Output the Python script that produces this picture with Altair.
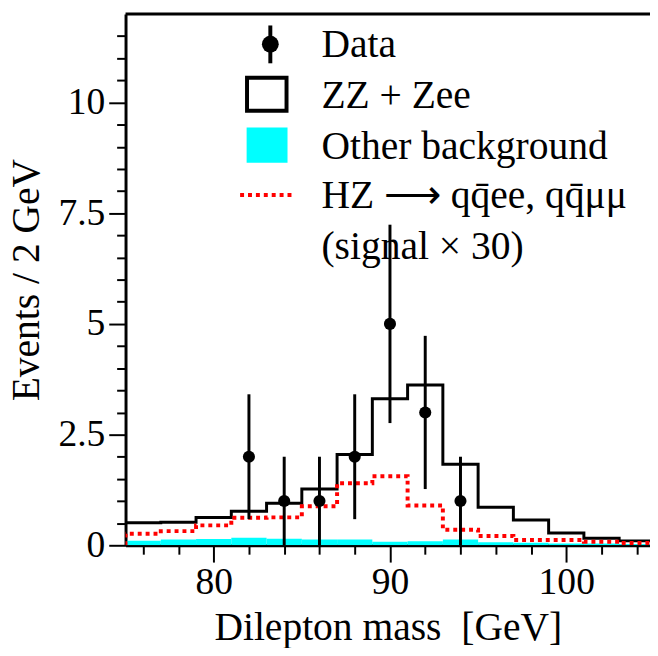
import altair as alt
import pandas as pd

# ---- data ----
bin_edges = [75, 77, 79, 81, 83, 85, 87, 89, 91, 93, 95, 97, 99, 101, 103, 105]
other_bkg = [0.10, 0.13, 0.14, 0.17, 0.15, 0.13, 0.13, 0.08, 0.09, 0.13, 0.07, 0.06, 0.04, 0.04, 0.03]
zz_total = [0.51, 0.52, 0.63, 0.77, 0.95, 1.27, 2.05, 3.31, 3.62, 1.83, 0.86, 0.57, 0.28, 0.16, 0.10]
signal_x30 = [0.26, 0.32, 0.45, 0.62, 0.63, 0.88, 1.40, 1.56, 0.90, 0.35, 0.21, 0.12, 0.12, 0.08, 0.05]

data_x = [82, 84, 86, 88, 90, 92, 94]
data_y = [2, 1, 1, 2, 5, 3, 1]
data_lo = [0.59, 0, 0, 0.59, 2.76, 1.27, 0]
data_hi = [3.41, 2, 2, 3.41, 7.24, 4.73, 2]

x_major = [80, 90, 100]
x_minor = [76, 78, 82, 84, 86, 88, 92, 94, 96, 98, 102, 104]
y_major = [0, 2.5, 5, 7.5, 10]
y_minor = [0.5, 1, 1.5, 2, 3, 3.5, 4, 4.5, 5.5, 6, 6.5, 7, 8, 8.5, 9, 9.5, 10.5, 11, 11.5]

legend_labels = ["Data", "ZZ + Zee", "Other background",
                 "HZ \u27f6 qq\u0304ee, qq\u0304\u03bc\u03bc", "(signal \u00d7 30)"]

FONT = "Liberation Serif"
W, H = 531, 538

# ---- tables ----
bins = pd.DataFrame({"lo": bin_edges[:-1], "hi": bin_edges[1:], "bkg": other_bkg, "zero": 0})


def step_table(vals):
    xs = [bin_edges[0]] + bin_edges
    ys = [0] + vals + [vals[-1]]
    return pd.DataFrame({"x": xs, "y": ys, "i": list(range(len(xs)))})


zz_df = step_table(zz_total)
sig_df = step_table(signal_x30)
pts = pd.DataFrame({"x": data_x, "y": data_y, "lo": data_lo, "hi": data_hi})

xscale = alt.Scale(domain=[75, 104.75], nice=False, zero=False)
yscale = alt.Scale(domain=[0, 12], nice=False)

xaxis = alt.Axis(
    values=x_major, title="Dilepton mass\u00a0\u00a0[GeV]", orient="bottom",
    format="d", tickSize=17,
    labelPadding=32, labelBaseline="alphabetic", labelFontSize=38, labelOverlap=False,
    titleX=265.5, titleY=95, titleAlign="center", titleBaseline="alphabetic",
    titleFontSize=40, grid=False,
)
yaxis = alt.Axis(
    values=y_major, title="Events / 2 GeV", orient="left",
    labelExpr="'' + datum.value", tickSize=17,
    labelPadding=4, labelFontSize=38, labelOverlap=False,
    titleX=-88, titleY=269, titleAngle=270, titleAlign="center", titleBaseline="alphabetic",
    titleFontSize=40, grid=False,
)
xaxis_minor = alt.Axis(values=x_minor, orient="bottom", labels=False, domain=False,
                       tickSize=9, title="", grid=False)
yaxis_minor = alt.Axis(values=y_minor, orient="left", labels=False, domain=False,
                       tickSize=9, title="", grid=False)

bkg = alt.Chart(bins).mark_rect(color="#00ffff", clip=True).encode(
    x=alt.X("lo:Q", scale=xscale, axis=xaxis),
    x2="hi:Q",
    y=alt.Y("bkg:Q", scale=yscale, axis=yaxis),
    y2="zero:Q",
)

zz = alt.Chart(zz_df).mark_line(interpolate="step-after", color="black", strokeWidth=3, clip=True).encode(
    x=alt.X("x:Q", axis=xaxis_minor), y=alt.Y("y:Q", axis=yaxis_minor), order="i:Q")

sig = alt.Chart(sig_df).mark_line(interpolate="step-after", color="#ff0000", strokeWidth=4,
                                  strokeDash=[4, 4], clip=True).encode(
    x=alt.X("x:Q", axis=None), y=alt.Y("y:Q", axis=None), order="i:Q")

errs = alt.Chart(pts).mark_rule(color="black", strokeWidth=3).encode(
    x=alt.X("x:Q", axis=None), y=alt.Y("lo:Q", axis=None), y2="hi:Q")
dots = alt.Chart(pts).mark_point(filled=True, color="black", size=150, opacity=1).encode(
    x=alt.X("x:Q", axis=None), y=alt.Y("y:Q", axis=None))

one = alt.Data(values=[{"k": 1}])
frame_top = alt.Chart(one).mark_rule(color="black", strokeWidth=3).encode(
    x=alt.value(0), x2=alt.value(W), y=alt.value(0))

# legend
leg = [
    alt.Chart(one).mark_rule(color="black", strokeWidth=4).encode(
        x=alt.value(146.6), y=alt.value(11.7), y2=alt.value(50)),
    alt.Chart(one).mark_point(filled=True, color="black", size=290, opacity=1).encode(
        x=alt.value(146.6), y=alt.value(30.7)),
    alt.Chart(one).mark_rect(fill="white", stroke="black", strokeWidth=4).encode(
        x=alt.value(123), x2=alt.value(163), y=alt.value(64.7), y2=alt.value(98)),
    alt.Chart(one).mark_rect(fill="#00ffff").encode(
        x=alt.value(122.6), x2=alt.value(164), y=alt.value(115), y2=alt.value(150.7)),
    alt.Chart(one).mark_rule(color="#ff0000", strokeWidth=4, strokeDash=[4, 4]).encode(
        x=alt.value(116), x2=alt.value(170), y=alt.value(183.3)),
]
baselines = [44, 95, 147, 197, 248]
for lab, yb in zip(legend_labels, baselines):
    leg.append(alt.Chart(one).mark_text(font=FONT, fontSize=40, align="left", baseline="alphabetic",
                                        color="black").encode(
        x=alt.value(198.3), y=alt.value(yb), text=alt.value(lab)))

chart = alt.layer(bkg, zz, sig, errs, dots, frame_top, *leg).resolve_axis(
    x="independent", y="independent"
).properties(
    width=W, height=H,
    autosize=alt.AutoSizeParams(type="none"),
    padding={"left": 119, "top": 2, "right": 0, "bottom": 100},
).configure_view(stroke=None).configure_axis(
    labelFont=FONT, titleFont=FONT, labelColor="black", titleColor="black",
    titleFontWeight="normal", domainColor="black", domainWidth=3,
    tickColor="black", tickWidth=2,
)

chart.save("out.html", embed_options={"renderer": "svg", "actions": False})
